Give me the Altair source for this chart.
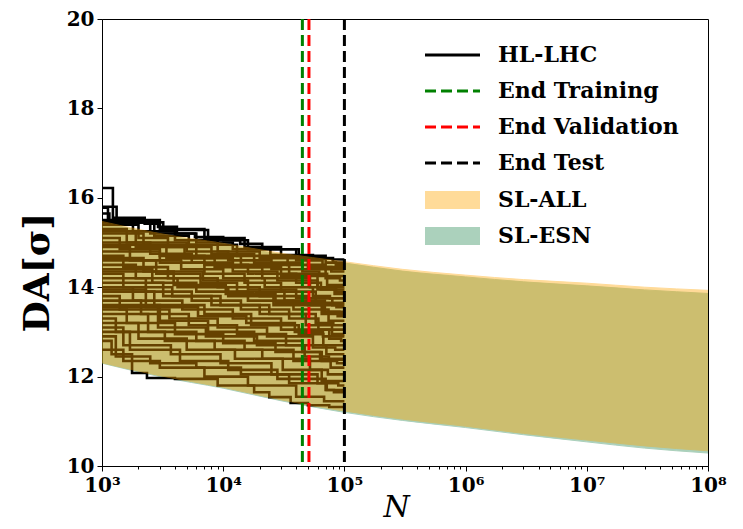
import altair as alt
import pandas as pd

# ---------------- data ----------------
series_names = ["HL-LHC", "End Training", "End Validation", "End Test"]
series_colors = ["black", "green", "red", "black"]
series_dash = [[1, 0], [11, 5], [11, 5], [11, 5]]

end_names = ["End Training", "End Validation", "End Test"]
end_N = [45000, 51000, 100000]
run_end_N = 100000

band_names = ["SL-ALL", "SL-ESN"]
band_colors = ["orange", "seagreen"]

band_N = [1e3, 3e3, 1e4, 3e4, 1e5, 3e5, 1e6, 3e6, 1e7, 3e7, 1e8]
all_upper = [15.47, 15.20, 14.98, 14.76, 14.57, 14.40, 14.27, 14.17, 14.09, 14.00, 13.93]
all_lower = [12.31, 12.02, 11.76, 11.48, 11.23, 11.05, 10.89, 10.73, 10.58, 10.45, 10.34]
esn_upper = [15.45, 15.18, 14.96, 14.73, 14.54, 14.36, 14.23, 14.12, 14.03, 13.94, 13.86]
esn_lower = [12.30, 12.00, 11.74, 11.46, 11.20, 11.02, 10.86, 10.70, 10.54, 10.40, 10.29]

x_major = [1e3, 1e4, 1e5, 1e6, 1e7, 1e8]
x_minor_mult = [2, 3, 4, 5, 6, 7, 8, 9]
y_ticks = [10, 12, 14, 16, 18, 20]

# HL-LHC runs: (N, DA) where each run steps down to DA at N; last level held to 1e5
hl_lhc_runs = [
    [(1000, 16.22), (1230, 15.55), (2250, 15.42), (2900, 15.35), (4150, 15.20), (5850, 15.12), (10000, 15.05), (13800, 14.97), (21000, 14.86), (24500, 14.72), (55000, 14.64), (80000, 14.62)],
    [(1000, 15.80), (1320, 15.50), (3000, 15.30), (7000, 15.10), (15000, 14.90), (30000, 14.70), (70000, 14.55), (85000, 14.50)],
    [(1000, 15.65), (1150, 15.45), (2500, 15.20), (6000, 15.00), (12000, 14.85), (40000, 14.60), (66000, 14.45)],
    [(1000, 15.50), (1800, 15.25), (4000, 15.05), (9000, 14.80), (20000, 14.65), (50000, 14.45), (78000, 14.35)],
    [(1000, 15.40), (2000, 15.10), (3500, 14.90), (8000, 14.75), (18000, 14.55), (45000, 14.35), (62000, 14.25)],
    [(1000, 15.30), (1600, 15.00), (5000, 14.80), (11000, 14.60), (25000, 14.40), (70000, 14.20), (92000, 14.15)],
    [(1000, 15.20), (2200, 14.95), (6000, 14.70), (14000, 14.50), (35000, 14.30), (72000, 14.05)],
    [(1000, 15.10), (1400, 14.85), (3000, 14.70), (7000, 14.50), (16000, 14.30), (40000, 14.10), (64000, 13.95)],
    [(1000, 15.00), (2500, 14.75), (5500, 14.55), (12000, 14.35), (28000, 14.15), (60000, 13.95), (83000, 13.85)],
    [(1000, 14.90), (1700, 14.60), (4500, 14.40), (10000, 14.20), (22000, 14.00), (55000, 13.80), (76000, 13.75)],
    [(1000, 14.80), (3000, 14.55), (7000, 14.30), (15000, 14.10), (30000, 13.90), (58000, 13.65)],
    [(1000, 14.70), (1500, 14.45), (3500, 14.20), (9000, 14.00), (20000, 13.80), (50000, 13.60), (86000, 13.55)],
    [(1000, 14.60), (2800, 14.30), (6500, 14.10), (13000, 13.90), (32000, 13.70), (69000, 13.45)],
    [(1000, 14.50), (1900, 14.20), (4200, 14.00), (11000, 13.80), (26000, 13.60), (65000, 13.40), (88000, 13.35)],
    [(1000, 14.40), (2600, 14.10), (6000, 13.90), (16000, 13.70), (38000, 13.50), (74000, 13.25)],
    [(1000, 14.30), (1500, 14.00), (3800, 13.80), (9500, 13.60), (24000, 13.40), (58000, 13.20), (81000, 13.15)],
    [(1000, 14.20), (2300, 13.90), (5500, 13.70), (14000, 13.50), (35000, 13.30), (61000, 13.05)],
    [(1000, 14.10), (3200, 13.80), (8000, 13.60), (20000, 13.40), (48000, 13.15), (79000, 12.95)],
    [(1000, 14.00), (1800, 13.70), (4600, 13.50), (12000, 13.30), (30000, 13.05), (75000, 12.85), (94000, 12.80)],
    [(1000, 13.90), (2700, 13.60), (7000, 13.40), (17000, 13.15), (42000, 12.95), (67000, 12.70)],
    [(1000, 13.80), (1400, 13.50), (3600, 13.30), (9000, 13.10), (23000, 12.90), (55000, 12.65), (84000, 12.60)],
    [(1000, 13.70), (2100, 13.40), (5200, 13.15), (13000, 12.95), (33000, 12.70), (71000, 12.50)],
    [(1000, 13.60), (3000, 13.25), (7500, 13.00), (18000, 12.80), (45000, 12.55), (63000, 12.40)],
    [(1000, 13.50), (1600, 13.20), (4000, 12.95), (10000, 12.75), (27000, 12.55), (65000, 12.35), (87000, 12.30)],
    [(1000, 13.40), (2400, 13.00), (6000, 12.80), (15000, 12.60), (38000, 12.35), (77000, 12.20)],
    [(1000, 13.30), (1300, 13.00), (3300, 12.80), (8500, 12.60), (21000, 12.40), (52000, 12.15), (73000, 12.05)],
    [(1000, 13.20), (2000, 12.85), (5000, 12.60), (12500, 12.40), (31000, 12.15), (65000, 11.90)],
    [(1000, 13.10), (1500, 12.70), (3700, 12.50), (9500, 12.30), (25000, 12.05), (60000, 11.85), (89000, 11.80)],
    [(1000, 13.00), (1700, 12.60), (4400, 12.35), (11000, 12.15), (28000, 11.95), (70000, 11.70), (82000, 11.65)],
    [(1000, 12.80), (1200, 12.50), (1770, 12.08), (2350, 11.97), (4000, 11.95), (9000, 11.80), (18000, 11.65), (24000, 11.54), (36000, 11.41), (50000, 11.36), (75000, 11.32)],
    [(1000, 12.60), (1500, 12.35), (3000, 12.20), (7000, 12.00), (16000, 11.80), (40000, 11.55), (68000, 11.45)],
    [(1000, 15.45), (2700, 15.15), (5200, 14.95), (13000, 14.70), (34000, 14.50), (70000, 14.40)],
    [(1000, 15.25), (1900, 14.90), (4800, 14.65), (12000, 14.45), (30000, 14.25), (60000, 14.00)],
    [(1000, 14.95), (3400, 14.65), (8500, 14.45), (21000, 14.20), (52000, 14.00), (85500, 13.90)],
    [(1000, 14.65), (2200, 14.35), (6800, 14.15), (16000, 13.95), (40000, 13.75), (79500, 13.60)],
    [(1000, 14.35), (3900, 14.05), (10500, 13.85), (27000, 13.65), (68000, 13.45), (91000, 13.40)],
    [(1000, 13.95), (2300, 13.55), (6200, 13.35), (15500, 13.20), (39000, 13.00), (66500, 12.90)],
    [(1000, 13.55), (2900, 13.10), (7200, 12.90), (19000, 12.70), (47000, 12.45), (74500, 12.38)],
    [(1000, 12.90), (1300, 12.45), (2500, 12.30), (6000, 12.20), (14000, 12.05), (35000, 11.85), (71500, 11.70)],
    [(1000, 15.78), (1120, 15.45), (3200, 15.28), (7500, 15.05), (16000, 14.85), (42000, 14.65), (80500, 14.55)],
]

# ---------------- tables ----------------
run_rows = []
for i, run in enumerate(hl_lhc_runs):
    pts = list(run) + [(run_end_N, run[-1][1])]
    for n, v in pts:
        run_rows.append({"N": n, "DA": v, "run": i, "series": "HL-LHC"})
df_runs = pd.DataFrame(run_rows)

df_ends = pd.DataFrame({"N": end_N, "series": end_names})

df_band = pd.concat([
    pd.DataFrame({"N": band_N, "lo": all_lower, "hi": all_upper, "band": "SL-ALL"}),
    pd.DataFrame({"N": band_N, "lo": esn_lower, "hi": esn_upper, "band": "SL-ESN"}),
])

x_minor = [m * d for d in x_major[:-1] for m in x_minor_mult]
x_ticks = sorted(x_major + x_minor)

FONT = "DejaVu Serif"

major_test = "abs(log(datum.value)/LN10 - round(log(datum.value)/LN10)) < 0.001"
sup = "['\u2070','\u00b9','\u00b2','\u00b3','\u2074','\u2075','\u2076','\u2077','\u2078','\u2079']"
x_label_expr = f"{major_test} ? '10' + {sup}[round(log(datum.value)/LN10)] : ''"

xscale = alt.Scale(type="log", domain=[1e3, 1e8], nice=False)
yscale = alt.Scale(domain=[10, 20], nice=False, zero=False)

xaxis = alt.Axis(
    values=x_ticks, labelExpr=x_label_expr, grid=False,
    tickSize={"condition": {"test": major_test, "value": 5}, "value": 3},
    tickColor="black", domainColor="black", labelColor="black",
    labelFont=FONT, labelFontSize=20, labelFontWeight="bold",
    labelFlush=False, labelOverlap=False, labelBound=False, labelPadding=4,
    title="N", titleFont=FONT, titleFontSize=30, titleFontStyle="italic",
    titleFontWeight="normal", titleColor="black",
    titleX=294, titleY=41, titleBaseline="middle", titleAnchor="start", titleAlign="center",
)
yaxis = alt.Axis(
    values=y_ticks, grid=False, tickSize=5, tickColor="black", domainColor="black",
    labelColor="black", labelFont=FONT, labelFontSize=20, labelFontWeight="bold",
    labelPadding=3, labelFlush=False,
    title="DA[σ]", titleFont=FONT, titleFontSize=36, titleFontWeight="bold",
    titleColor="black", titleX=-65, titleY=253, titleBaseline="middle",
    titleAngle=270, titleAnchor="start", titleAlign="center",
)

path_line = "M-2,0H2"
path_rect = "M-2,-0.65H2V0.65H-2Z"

line_legend = alt.Legend(
    title=None, orient="none", legendX=335, legendY=20.5, padding=0,
    symbolType=path_line, symbolSize=756, symbolStrokeWidth=3,
    labelFont=FONT, labelFontSize=22, labelFontWeight="bold", labelColor="black",
    labelOffset=30, rowPadding=9, labelLimit=400,
)
fill_legend = alt.Legend(
    title=None, orient="none", legendX=336.5, legendY=167, padding=0,
    symbolType=path_rect, symbolSize=756, symbolStrokeWidth=0, symbolOpacity=0.4,
    labelFont=FONT, labelFontSize=22, labelFontWeight="bold", labelColor="black",
    labelOffset=31.5, rowPadding=11, labelLimit=400,
)

color_scale = alt.Scale(domain=series_names, range=series_colors)
dash_scale = alt.Scale(domain=series_names, range=series_dash)
fill_scale = alt.Scale(domain=band_names, range=band_colors)

x_enc = alt.X("N:Q", scale=xscale, axis=xaxis)

# SL-ESN band (below the HL-LHC curves)
esn_area = alt.Chart(df_band).transform_filter("datum.band == 'SL-ESN'").mark_area(
    opacity=0.4, interpolate="monotone", stroke="seagreen", strokeWidth=1, clip=True
).encode(
    x=x_enc, y=alt.Y("lo:Q", scale=yscale, axis=yaxis), y2="hi:Q",
    fill=alt.Fill("band:N", scale=fill_scale, legend=fill_legend),
)

lines = alt.Chart(df_runs).mark_line(interpolate="step-after", strokeWidth=2.6, clip=True).encode(
    x=x_enc,
    y=alt.Y("DA:Q", scale=yscale, axis=yaxis),
    detail="run:N",
    order="N:Q",
    color=alt.Color("series:N", scale=color_scale, legend=line_legend),
    strokeDash=alt.StrokeDash("series:N", scale=dash_scale, legend=line_legend),
)

# SL-ALL band (over the HL-LHC curves)
all_area = alt.Chart(df_band).transform_filter("datum.band == 'SL-ALL'").mark_area(
    opacity=0.4, interpolate="monotone", stroke="orange", strokeWidth=1, clip=True
).encode(
    x=x_enc, y=alt.Y("lo:Q", scale=yscale, axis=yaxis), y2="hi:Q",
    fill=alt.Fill("band:N", scale=fill_scale, legend=fill_legend),
)

rules = alt.Chart(df_ends).mark_rule(strokeWidth=3).encode(
    x=x_enc,
    color=alt.Color("series:N", scale=color_scale, legend=line_legend),
    strokeDash=alt.StrokeDash("series:N", scale=dash_scale, legend=line_legend),
)

chart = alt.layer(esn_area, lines, all_area, rules).properties(
    width=606, height=447,
    autosize=alt.AutoSizeParams(type="none"),
    padding={"left": 94, "top": 11, "right": 27, "bottom": 60},
    background="white",
).configure_view(stroke="black", strokeWidth=1)

chart.save("out.html", embed_options={"renderer": "svg", "actions": False})
